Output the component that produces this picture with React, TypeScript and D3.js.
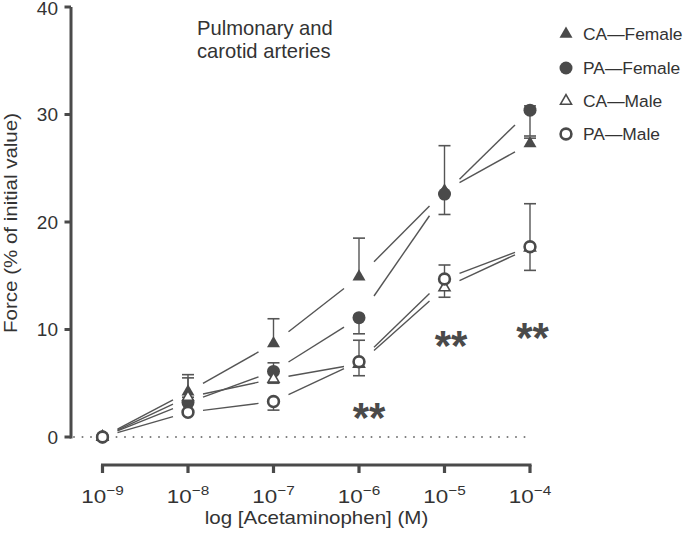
import React from "react";
import * as d3 from "d3";

const exponents = [-9, -8, -7, -6, -5, -4];
const yTicks = [0, 10, 20, 30, 40];

const caFemale = [0, 4.2, 8.7, 14.9, 22.9, 27.3];
const caFemaleUp = [0, 1.6, 2.3, 3.6, 4.2, 0.5];
const caFemaleDown = [0, 0, 0, 0, 0, 0];

const paFemale = [0, 3.2, 6.1, 11.1, 22.6, 30.4];
const paFemaleUp = [0, 0.5, 0.8, 0, 0, 0.4];
const paFemaleDown = [0, 0, 0, 1.5, 1.9, 2.4];

const caMale = [0, 3.7, 5.4, 6.8, 13.9, 17.6];
const caMaleUp = [0, 1.8, 0, 0, 0, 0];
const caMaleDown = [0, 0, 0.4, 1.1, 0.9, 2.1];

const paMale = [0, 2.3, 3.3, 7.0, 14.7, 17.7];
const paMaleUp = [0, 0, 0, 2.0, 1.3, 4.0];
const paMaleDown = [0, 0, 0.8, 0, 0, 0];

const seriesNames = ["CA\u2014Female", "PA\u2014Female", "CA\u2014Male", "PA\u2014Male"];
// "**" marks: concentration exponent and the force value at the mark's centre
const sigExp = [-6, -5, -4];
const sigValue = [2.42, 9.12, 9.86];
const sigShift = [10, 6.6, 2.5];

const INK = "#4a4a4a";
const TEXT = "#333";
const FONT = "'Liberation Sans', Arial, Helvetica, sans-serif";

type Series = { name: string; shape: "tri" | "circ"; filled: boolean; values: number[]; up: number[]; down: number[] };

const series: Series[] = [
  { name: seriesNames[0], shape: "tri", filled: true, values: caFemale, up: caFemaleUp, down: caFemaleDown },
  { name: seriesNames[1], shape: "circ", filled: true, values: paFemale, up: paFemaleUp, down: paFemaleDown },
  { name: seriesNames[2], shape: "tri", filled: false, values: caMale, up: caMaleUp, down: caMaleDown },
  { name: seriesNames[3], shape: "circ", filled: false, values: paMale, up: paMaleUp, down: paMaleDown },
];

function Marker({ x, y, shape, filled }: { x: number; y: number; shape: string; filled: boolean }) {
  if (shape === "circ") {
    return filled ? (
      <circle cx={x} cy={y} r={6.5} fill={INK} />
    ) : (
      <circle cx={x} cy={y} r={5.4} fill="white" stroke={INK} strokeWidth={2.6} />
    );
  }
  const s = filled ? 13 : 11;
  const h = (s * Math.sqrt(3)) / 2;
  const p = `M${x},${y - (2 * h) / 3} L${x + s / 2},${y + h / 3} L${x - s / 2},${y + h / 3} Z`;
  return filled ? (
    <path d={p} fill={INK} />
  ) : (
    <path d={p} fill="white" stroke={INK} strokeWidth={1.6} strokeLinejoin="miter" />
  );
}

export default function App() {
  const width = 685;
  const height = 538;
  const x = d3.scaleLinear().domain([-9, -4]).range([102.5, 530]);
  const y = d3.scaleLinear().domain([0, 40]).range([437, 7]);
  const axisY = 465;
  const gap = 15;

  return (
    <svg width={width} height={height} style={{ position: "absolute", left: 0, top: 0 }} fontFamily={FONT}>
      {/* zero dotted line */}
      <line x1={74} x2={x(-4)} y1={y(0)} y2={y(0)} stroke="#777" strokeWidth={2} strokeDasharray="0 8.5" strokeLinecap="round" />

      {/* Y axis */}
      <line x1={71} x2={71} y1={y(40)} y2={y(0) + 1.5} stroke={INK} strokeWidth={3} />
      {yTicks.map((t) => (
        <g key={t}>
          <line x1={64.5} x2={71} y1={y(t)} y2={y(t)} stroke={INK} strokeWidth={3} />
          <text x={58} y={y(t)} dy={t === 40 ? "0.4em" : "0.36em"} textAnchor="end" fontSize={19} fill={TEXT}>
            {t}
          </text>
        </g>
      ))}
      <g transform={`translate(16.5,223) rotate(-90) scale(1.08,1)`}>
        <text x={0} y={0} textAnchor="middle" fontSize={19} fill={TEXT}>
          Force (% of initial value)
        </text>
      </g>

      {/* X axis */}
      <line x1={x(-9) - 1.5} x2={x(-4) + 1.5} y1={axisY} y2={axisY} stroke={INK} strokeWidth={3.2} />
      {exponents.map((e) => (
        <g key={e}>
          <line x1={x(e)} x2={x(e)} y1={axisY} y2={axisY + 8} stroke={INK} strokeWidth={3.2} />
          <g transform={`translate(${x(e)},503) scale(1.18,1)`}>
            <text x={0} y={0} textAnchor="middle" fontSize={19} fill={TEXT}>
              10
              <tspan fontSize={13} dy={-8}>
                {"\u2212" + Math.abs(e)}
              </tspan>
            </text>
          </g>
        </g>
      ))}
      <g transform="translate(316.5,524) scale(1.14,1)">
        <text x={0} y={0} textAnchor="middle" fontSize={18} fill={TEXT}>
          log [Acetaminophen] (M)
        </text>
      </g>

      {/* connecting line segments with gaps */}
      {series.map((s) =>
        s.values.slice(0, -1).map((v, i) => {
          const x0 = x(exponents[i]);
          const x1 = x(exponents[i + 1]);
          const y0 = y(v);
          const y1 = y(s.values[i + 1]);
          const dx = x1 - x0;
          const t0 = gap / dx;
          const t1 = 1 - gap / dx;
          return (
            <line
              key={s.name + i}
              x1={x0 + dx * t0}
              y1={y0 + (y1 - y0) * t0}
              x2={x0 + dx * t1}
              y2={y0 + (y1 - y0) * t1}
              stroke="#555"
              strokeWidth={1.4}
            />
          );
        })
      )}

      {/* error bars */}
      {series.map((s) =>
        s.values.map((v, i) => {
          const cx = x(exponents[i]);
          const els = [];
          if (s.up[i] > 0) {
            const ty = y(v + s.up[i]);
            els.push(<line key="u" x1={cx} x2={cx} y1={y(v)} y2={ty} stroke="#555" strokeWidth={1.4} />);
            els.push(<line key="uc" x1={cx - 6} x2={cx + 6} y1={ty} y2={ty} stroke="#555" strokeWidth={1.6} />);
          }
          if (s.down[i] > 0) {
            const by = y(v - s.down[i]);
            els.push(<line key="d" x1={cx} x2={cx} y1={y(v)} y2={by} stroke="#555" strokeWidth={1.4} />);
            els.push(<line key="dc" x1={cx - 6} x2={cx + 6} y1={by} y2={by} stroke="#555" strokeWidth={1.6} />);
          }
          return <g key={s.name + "e" + i}>{els}</g>;
        })
      )}

      {/* markers */}
      {series.map((s) =>
        s.values.map((v, i) => (
          <Marker key={s.name + "m" + i} x={x(exponents[i])} y={y(v)} shape={s.shape} filled={s.filled} />
        ))
      )}

      {/* significance */}
      {sigExp.map((e, i) => (
        <text key={e} x={x(e) + sigShift[i]} y={y(sigValue[i]) + 21} textAnchor="middle" fontSize={42} fontWeight="bold" fill={INK}>
          **
        </text>
      ))}

      {/* title */}
      <text x={197} y={35} fontSize={20.2} fill={TEXT}>
        Pulmonary and
      </text>
      <text x={197} y={58} fontSize={20.2} fill={TEXT}>
        carotid arteries
      </text>

      {/* legend */}
      {series.map((s, i) => {
        const ly = [34, 68, 101, 134][i];
        return (
          <g key={s.name + "leg"}>
            <Marker x={566} y={ly} shape={s.shape} filled={s.filled} />
            <text x={583} y={ly} dy="0.36em" fontSize={17.4} fill={TEXT}>
              {s.name}
            </text>
          </g>
        );
      })}
    </svg>
  );
}
